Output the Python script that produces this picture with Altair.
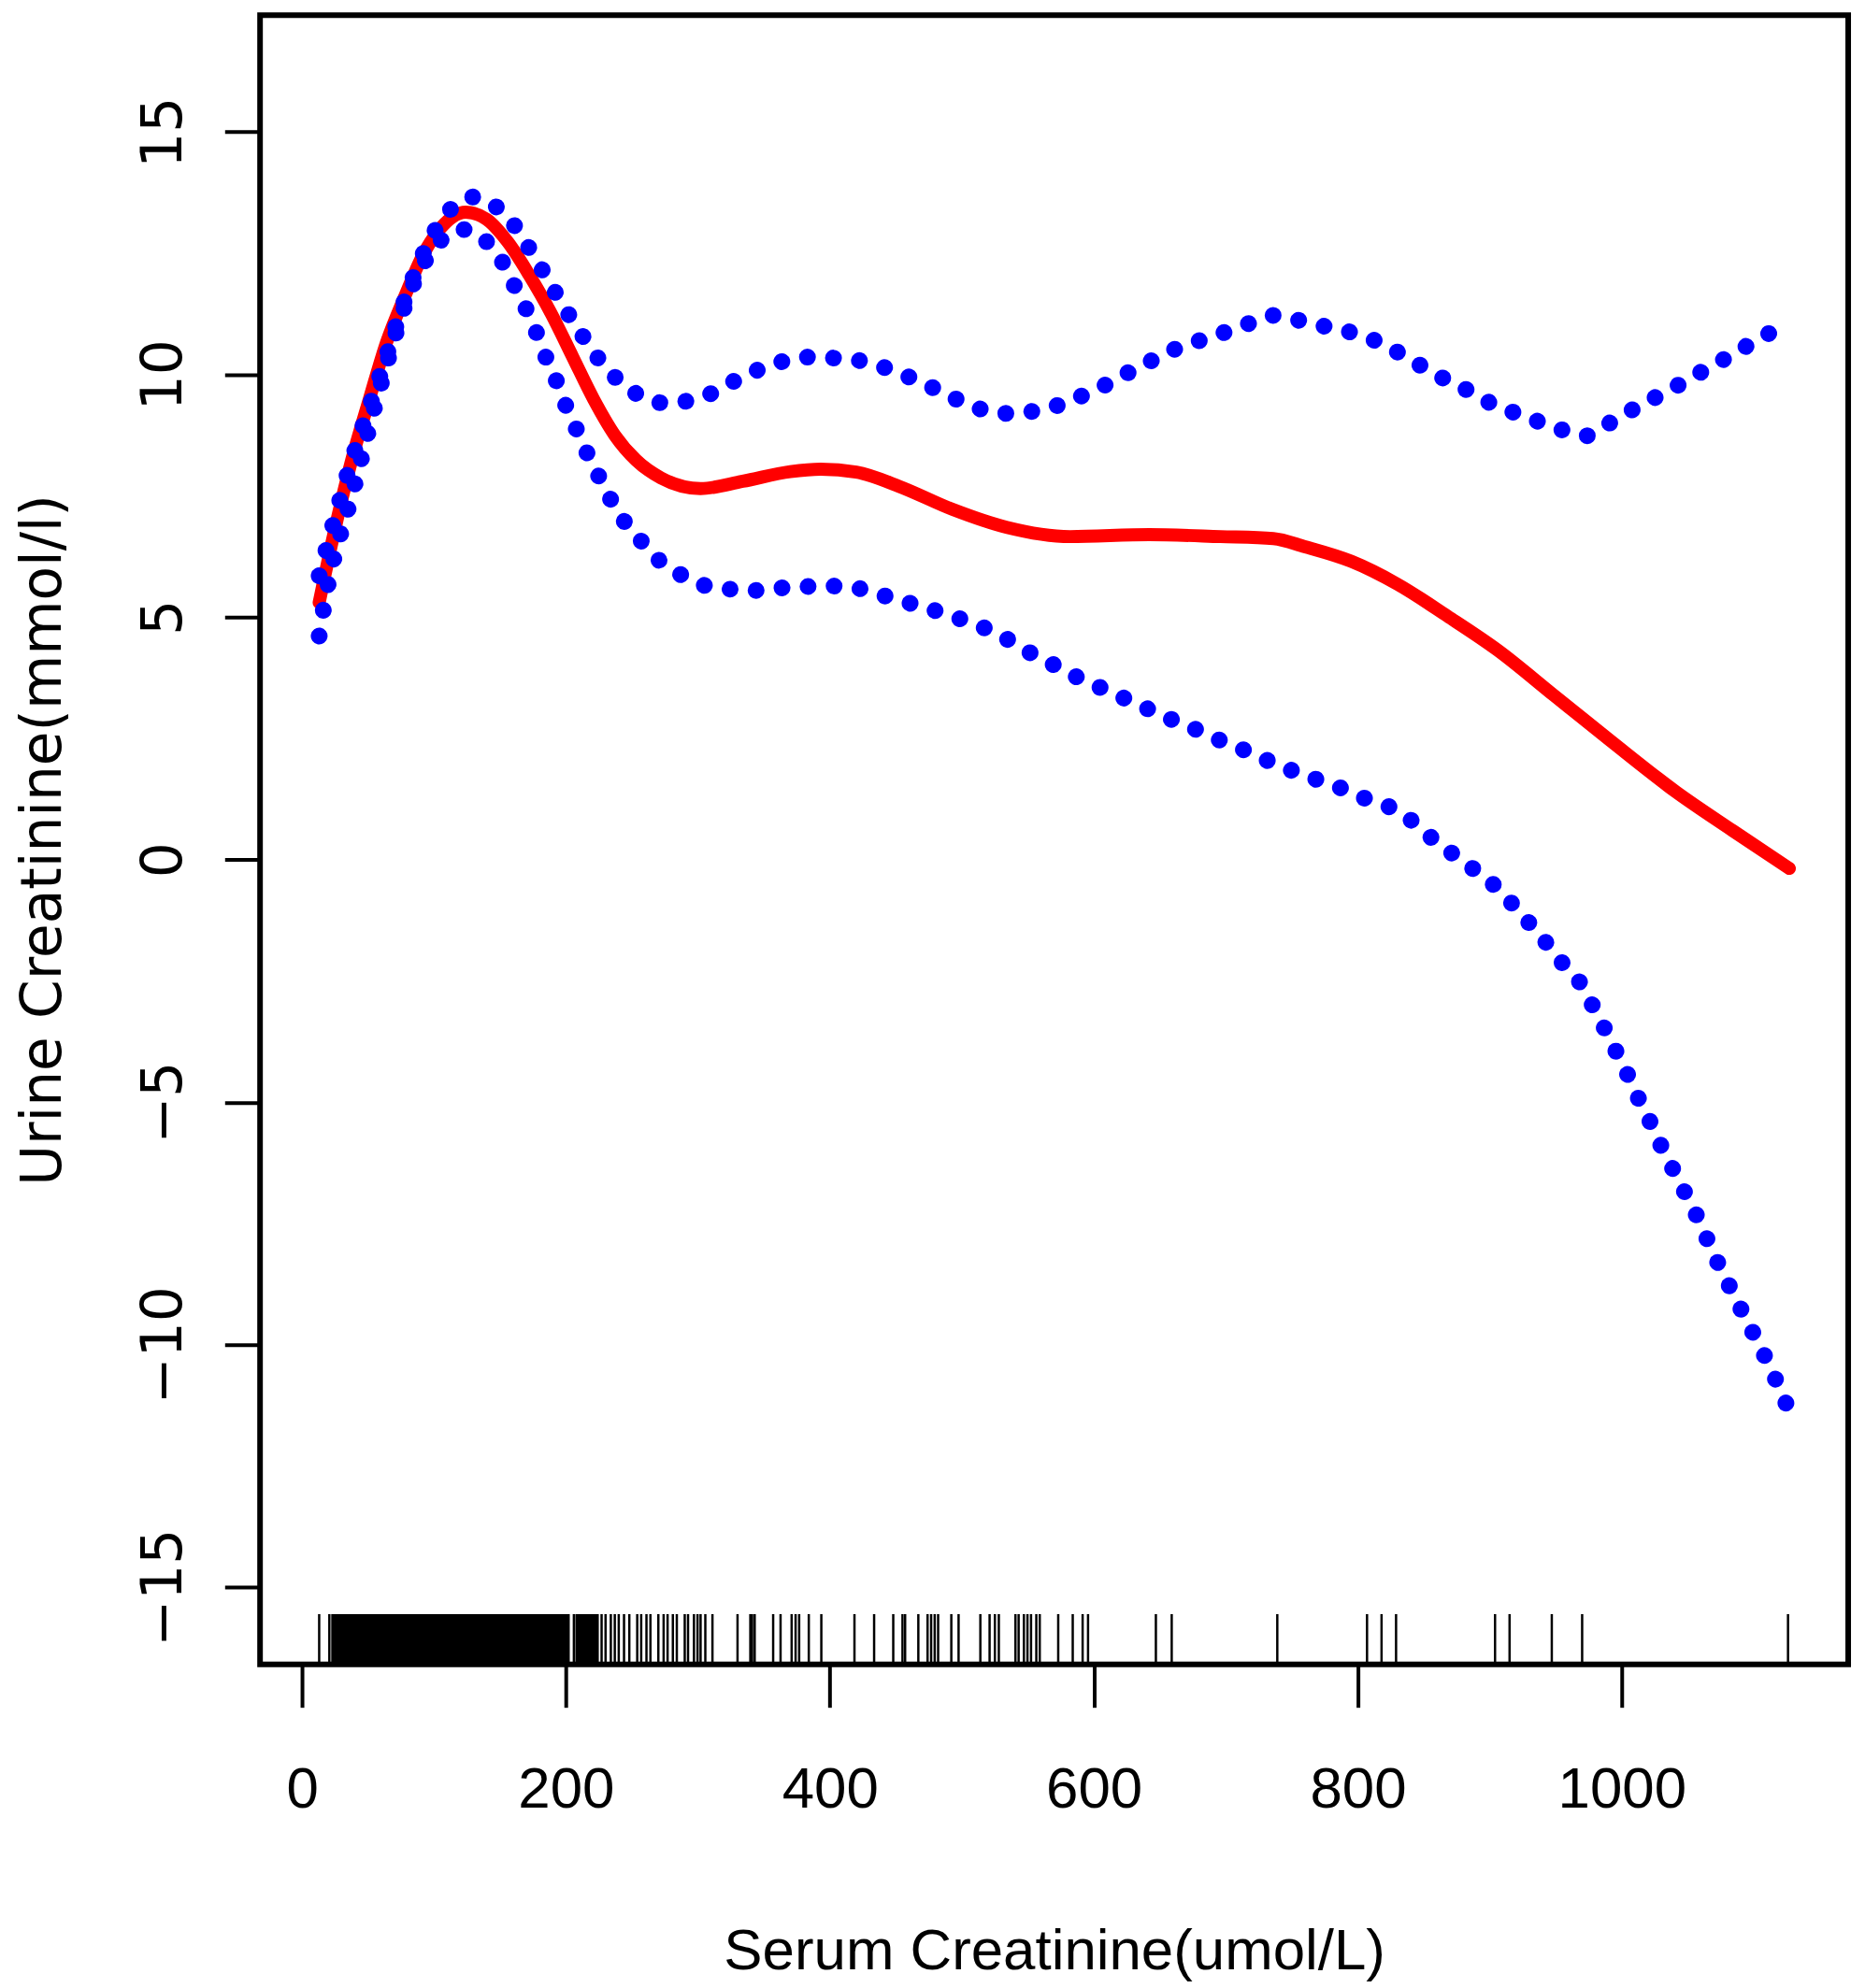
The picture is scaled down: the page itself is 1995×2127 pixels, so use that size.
import math
import altair as alt
import pandas as pd

# ---- fitted curve (red) ----
fit_x = [13, 24, 37, 51, 64, 78, 91, 105, 124, 140, 156, 172, 189, 205, 221, 237, 253, 272,
         302, 334, 370, 393, 420, 453, 493, 534, 582, 642, 696, 736, 760, 795, 830, 868,
         906, 949, 992, 1041, 1084, 1127]
fit_y = [5.3, 6.7, 8.17, 9.49, 10.66, 11.62, 12.43, 13.02, 13.35, 13.2, 12.73, 12.06, 11.25,
         10.37, 9.49, 8.75, 8.24, 7.87, 7.65, 7.80, 8.0, 8.05, 7.99, 7.69, 7.22, 6.85, 6.66,
         6.70, 6.66, 6.62, 6.45, 6.15, 5.68, 5.02, 4.32, 3.38, 2.44, 1.40, 0.60, -0.18]

# ---- upper confidence band (blue dotted) ----
up_x = [13, 34, 59, 84, 101, 113, 129, 147, 161, 172, 182, 192, 202, 213, 224, 237, 253,
        272, 291, 310, 327, 345, 364, 383, 403, 422, 442, 460, 478, 496, 514, 534, 553,
        572, 590, 609, 626, 644, 661, 680, 699, 717, 736, 755, 774, 795, 813, 831, 848,
        865, 883, 900, 919, 937, 956, 974, 992, 1009, 1027, 1044, 1062, 1079, 1096, 1113]
up_y = [5.85, 7.91, 9.97, 11.99, 12.98, 13.42, 13.66, 13.46, 13.07, 12.61, 12.16, 11.69,
        11.24, 10.78, 10.35, 9.95, 9.61, 9.42, 9.45, 9.61, 9.86, 10.09, 10.27, 10.36, 10.34,
        10.29, 10.14, 9.95, 9.73, 9.49, 9.29, 9.20, 9.24, 9.36, 9.55, 9.79, 10.04, 10.29,
        10.52, 10.70, 10.87, 11.05, 11.22, 11.12, 11.0, 10.87, 10.70, 10.45, 10.18, 9.92,
        9.68, 9.42, 9.21, 9.03, 8.85, 8.74, 9.02, 9.29, 9.55, 9.80, 10.08, 10.34, 10.61, 10.87]

# ---- lower confidence band (blue dotted) ----
lo_x = [13, 16, 40, 60, 84, 105, 122, 139, 151, 160, 169, 177, 184, 192, 199, 207, 215,
        224, 233, 243, 256, 269, 286, 303, 323, 343, 362, 382, 402, 422, 440, 459, 479,
        497, 516, 534, 550, 568, 586, 604, 622, 640, 658, 676, 694, 713, 731, 749, 767,
        786, 804, 823, 840, 855, 871, 887, 903, 917, 930, 943, 955, 969, 978, 987, 996,
        1005, 1013, 1022, 1030, 1039, 1048, 1057, 1065, 1073, 1082, 1091, 1100, 1109, 1117, 1125]
lo_y = [4.61, 5.12, 7.73, 9.82, 11.84, 12.76, 12.99, 12.76, 12.36, 11.88, 11.40, 10.91,
        10.41, 9.92, 9.42, 8.93, 8.44, 7.95, 7.47, 7.02, 6.60, 6.21, 5.89, 5.67, 5.58, 5.55,
        5.60, 5.63, 5.64, 5.59, 5.45, 5.30, 5.14, 4.98, 4.79, 4.55, 4.29, 4.04, 3.78, 3.56,
        3.34, 3.12, 2.90, 2.70, 2.48, 2.27, 2.05, 1.85, 1.67, 1.49, 1.28, 1.10, 0.82, 0.47,
        0.14, -0.18, -0.52, -0.91, -1.31, -1.72, -2.13, -2.56, -3.01, -3.48, -3.97, -4.46,
        -4.94, -5.43, -5.91, -6.39, -6.87, -7.35, -7.84, -8.32, -8.81, -9.30, -9.78, -10.27,
        -10.74, -11.24]

# ---- rug (observed serum creatinine values) ----
rug_x = [13, 20.7, 23,
         24, 25, 26, 27, 28, 29, 30, 31, 32, 33, 34, 35, 36, 37, 38, 39, 40, 41, 42, 43,
         44, 45, 46, 47, 48, 49, 50, 51, 52, 53, 54, 55, 56, 57, 58, 59, 60, 61, 62, 63,
         64, 65, 66, 67, 68, 69, 70, 71, 72, 73, 74, 75, 76, 77, 78, 79, 80, 81, 82, 83,
         84, 85, 86, 87, 88, 89, 90, 91, 92, 93, 94, 95, 96, 97, 98, 99, 100, 101, 102,
         103, 104, 105, 106, 107, 108, 109, 110, 111, 112, 113, 114, 115, 116, 117, 118,
         119, 120, 121, 122, 123, 124, 125, 126, 127, 128, 129, 130, 131, 132, 133, 134,
         135, 136, 137, 138, 139, 140, 141, 142, 143, 144, 145, 146, 147, 148, 149, 150,
         151, 152, 153, 154, 155, 156, 157, 158, 159, 160, 161, 162, 163, 164, 165, 166,
         167, 168, 169, 170, 171, 172, 173, 174, 175, 176, 177, 178, 179, 180, 181, 182,
         183, 184, 185, 186, 187, 188, 189, 190, 191, 192, 193, 194, 195, 196, 197, 198,
         199, 200, 201, 202,
         206, 208, 209, 210, 211, 212, 213, 214, 215, 216, 217, 218, 219, 220, 221, 222,
         223, 224, 227, 230, 234, 237, 240, 244, 248, 254, 257, 261, 264, 270, 274, 277,
         281, 284, 290, 292.5, 297, 299.7, 302, 305.6, 311, 330, 339.7, 341, 343, 357,
         362.6, 371, 374, 376.7, 384, 393.5, 418.6, 433.5, 448, 455, 457, 467, 474, 476.7,
         479.4, 482, 492, 497.5, 514, 521, 525, 528, 540.6, 543, 547, 549.7, 552.4, 556.4,
         559, 573, 584, 591.5, 595.6, 647, 659, 739, 807, 818, 829, 904, 915, 947, 970, 1126]

x_ticks = [0, 200, 400, 600, 800, 1000]
y_ticks = [-15, -10, -5, 0, 5, 10, 15]

W, H = 1704, 1770
X_DOM = [-31.8, 1171.6]
Y_DOM = [-16.59, 17.41]
NARROW = "Liberation Sans, Arial, sans-serif"
WIDE = "DejaVu Sans, Verdana, sans-serif"

xs = alt.Scale(domain=X_DOM, nice=False, zero=False)
ys = alt.Scale(domain=Y_DOM, nice=False, zero=False)

# dot spacing chosen so that each dotted line starts and ends on a dot
PX_X = W / (X_DOM[1] - X_DOM[0])
PX_Y = H / (Y_DOM[1] - Y_DOM[0])


def dash_for(xv, yv, target=28.0):
    L = sum(math.hypot((xv[i + 1] - xv[i]) * PX_X, (yv[i + 1] - yv[i]) * PX_Y)
            for i in range(len(xv) - 1))
    n = max(1, round(L / target))
    period = L / n
    return [0.1, period - 0.1]


xaxis = alt.Axis(values=x_ticks, format="d", title="Serum Creatinine(umol/L)", grid=False,
                 domain=False, tickSize=46, tickWidth=4, tickColor="black",
                 labelFont=NARROW, labelFontSize=62, labelColor="black", labelPadding=58,
                 labelFlush=False, labelOverlap=False, labelLimit=0,
                 titleFont=NARROW, titleFontSize=62, titleFontWeight="normal", titleColor="black",
                 titleY=327, titleBaseline="alphabetic", titleLimit=0)
yaxis = alt.Axis(values=y_ticks, format="d", title="Urine Creatinine(mmol/l)", grid=False,
                 domain=False, tickSize=38, tickWidth=4, tickColor="black",
                 labelFont=WIDE, labelFontSize=60, labelColor="black", labelPadding=47,
                 labelAngle=270, labelAlign="center", labelBaseline="alphabetic",
                 labelFlush=False, labelOverlap=False, labelLimit=0,
                 titleFont=WIDE, titleFontSize=60, titleFontWeight="normal", titleColor="black",
                 titleAngle=270, titleX=-214, titleY=885, titleAlign="center",
                 titleBaseline="alphabetic", titleLimit=0)

fit_df = pd.DataFrame({"x": fit_x, "y": fit_y})
up_df = pd.DataFrame({"x": up_x, "y": up_y})
lo_df = pd.DataFrame({"x": lo_x, "y": lo_y})
rug_df = pd.DataFrame({"x": rug_x})


def enc(ch):
    return ch.encode(x=alt.X("x:Q", scale=xs, axis=xaxis),
                     y=alt.Y("y:Q", scale=ys, axis=yaxis))


red = enc(alt.Chart(fit_df).mark_line(color="#FF0000", strokeWidth=14, strokeCap="round",
                                      strokeJoin="round", interpolate="monotone"))
upper = enc(alt.Chart(up_df).mark_line(color="#0000FF", strokeWidth=18, strokeCap="round",
                                       strokeDash=dash_for(up_x, up_y), interpolate="monotone"))
lower = enc(alt.Chart(lo_df).mark_line(color="#0000FF", strokeWidth=18, strokeCap="round",
                                       strokeDash=dash_for(lo_x, lo_y), interpolate="monotone"))
rug = alt.Chart(rug_df).mark_rule(color="black", strokeWidth=2.5).encode(
    x=alt.X("x:Q", scale=xs, axis=xaxis),
    y=alt.value(H),
    y2=alt.value(H - 54),
)

chart = alt.layer(red, upper, lower, rug).properties(
    width=W, height=H,
    padding={"left": 271, "top": 5, "right": 10, "bottom": 338},
    autosize=alt.AutoSizeParams(type="none"),
    background="white",
).configure_view(stroke="black", strokeWidth=6)

chart.save("out.html", embed_options={"renderer": "svg", "actions": False})
